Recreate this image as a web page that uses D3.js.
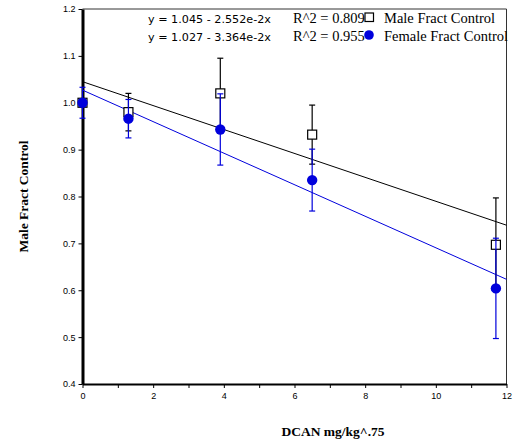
<!DOCTYPE html>
<html>
<head>
<meta charset="utf-8">
<script src="https://cdn.jsdelivr.net/npm/d3@7"></script>
<style>
  html, body { margin: 0; padding: 0; background: #fff; }
  svg { display: block; }
</style>
</head>
<body>
<svg id="chart" width="519" height="444"></svg>
<script>
// DCAN dose groups (mg/kg^.75)
const doses = [0, 1.3, 3.9, 6.5, 11.7];

// Fraction of control, male and female groups, with error half-widths
const maleMean = [1.0, 0.98, 1.02, 0.932, 0.697];
const maleErr = [0, 0.04, 0.075, 0.063, 0.10];
const femaleMean = [1.0, 0.966, 0.943, 0.835, 0.604];
const femaleErr = [0.033, 0.041, 0.076, 0.066, 0.107];

// Linear fits: y = intercept + slope * x
const maleFit = [1.045, -2.552e-2];
const femaleFit = [1.027, -3.364e-2];
const maleR2 = "0.809";
const femaleR2 = "0.955";

// Axis ticks
const yTicks = [0.4, 0.5, 0.6, 0.7, 0.8, 0.9, 1.0, 1.1, 1.2];
const xTicks = [0, 1, 2, 3, 4, 5, 6, 7, 8, 9, 10, 11, 12];

const seriesNames = ["Male Fract Control", "Female Fract Control"];
const xTitle = "DCAN mg/kg^.75";
const yTitle = "Male Fract Control";

const BLUE = "#0000dc";
const svg = d3.select("#chart");

const x = d3.scaleLinear().domain([0, 12]).range([82.5, 506.5]);
const y = d3.scaleLinear().domain([0.4, 1.2]).range([384, 9]);

// plot frame (top and right edges)
svg.append("path")
  .attr("d", `M${x(0)},${y(1.2)}H${x(12)}V${y(0.4)}`)
  .attr("fill", "none").attr("stroke", "#333").attr("stroke-width", 1);

// y axis
const yAxis = svg.append("g")
  .attr("transform", `translate(${x(0)},0)`)
  .call(d3.axisLeft(y).tickValues(yTicks).tickSize(4).tickSizeOuter(0)
    .tickFormat(d3.format(".1f")));
yAxis.select(".domain").attr("stroke", "#000").attr("stroke-width", 3);
yAxis.selectAll(".tick line").attr("stroke", "#000");
yAxis.selectAll(".tick text")
  .attr("x", -7)
  .style("font-family", "'Liberation Sans', Arial, sans-serif")
  .style("font-size", "9px")
  .attr("fill", "#000");

// x axis
const xAxis = svg.append("g")
  .attr("transform", `translate(0,${y(0.4)})`)
  .call(d3.axisBottom(x).tickValues(xTicks).tickSize(4).tickSizeOuter(0)
    .tickFormat(d => d % 2 === 0 ? d : ""));
xAxis.select(".domain").attr("stroke", "#000").attr("stroke-width", 2);
xAxis.selectAll(".tick line").attr("stroke", "#000");
xAxis.selectAll(".tick text")
  .attr("y", 9)
  .style("font-family", "'Liberation Sans', Arial, sans-serif")
  .style("font-size", "9px")
  .attr("fill", "#000");

// axis titles
svg.append("text")
  .attr("x", 333).attr("y", 436)
  .attr("text-anchor", "middle")
  .style("font-family", "'Liberation Serif', 'Times New Roman', serif")
  .style("font-weight", "bold").style("font-size", "13.5px")
  .text(xTitle);
svg.append("text")
  .attr("transform", `translate(28,${(y(0.4) + y(1.2)) / 2}) rotate(-90)`)
  .attr("text-anchor", "middle")
  .style("font-family", "'Liberation Serif', 'Times New Roman', serif")
  .style("font-weight", "bold").style("font-size", "13.5px")
  .text(yTitle);

// fitted lines across the dose range
function fitLine(fit, color) {
  svg.append("line")
    .attr("x1", x(0)).attr("y1", y(fit[0]))
    .attr("x2", x(12)).attr("y2", y(fit[0] + fit[1] * 12))
    .attr("stroke", color).attr("stroke-width", 1);
}
fitLine(maleFit, "#000");
fitLine(femaleFit, BLUE);

// error bars with caps
function errorBars(means, errs, color) {
  const g = svg.append("g").attr("stroke", color).attr("stroke-width", 1.2);
  doses.forEach((d, i) => {
    if (!errs[i]) return;
    const cx = x(d), y0 = y(means[i] - errs[i]), y1 = y(means[i] + errs[i]);
    g.append("line").attr("x1", cx).attr("x2", cx).attr("y1", y0).attr("y2", y1);
    g.append("line").attr("x1", cx - 3).attr("x2", cx + 3).attr("y1", y0).attr("y2", y0);
    g.append("line").attr("x1", cx - 3).attr("x2", cx + 3).attr("y1", y1).attr("y2", y1);
  });
}

// male: open squares
errorBars(maleMean, maleErr, "#000");
svg.append("g").selectAll("rect").data(doses).join("rect")
  .attr("x", d => x(d) - 4.5)
  .attr("y", (d, i) => y(maleMean[i]) - 4.5)
  .attr("width", 9).attr("height", 9)
  .attr("fill", "#fff").attr("stroke", "#000").attr("stroke-width", 1.2);

// female: filled dots
errorBars(femaleMean, femaleErr, BLUE);
svg.append("g").selectAll("circle").data(doses).join("circle")
  .attr("cx", d => x(d))
  .attr("cy", (d, i) => y(femaleMean[i]))
  .attr("r", 5.2)
  .attr("fill", BLUE);

// legend with fit equations
const fmtEq = f => `y = ${f[0].toFixed(3)} - ${(-f[1] * 100).toFixed(3)}e-2x`;
const legendRows = [
  { fit: maleFit, r2: maleR2, name: seriesNames[0], ly: 23 },
  { fit: femaleFit, r2: femaleR2, name: seriesNames[1], ly: 41 }
];
legendRows.forEach((r, i) => {
  svg.append("text").attr("x", 148).attr("y", r.ly)
    .style("font-family", "'DejaVu Sans', Verdana, sans-serif")
    .style("font-size", "11.2px")
    .text(fmtEq(r.fit));
  svg.append("text").attr("x", 293).attr("y", r.ly)
    .style("font-family", "'Liberation Serif', 'Times New Roman', serif")
    .style("font-size", "14.5px")
    .text(`R^2 = ${r.r2}`);
  if (i === 0) {
    svg.append("rect").attr("x", 365).attr("y", r.ly - 10)
      .attr("width", 8.5).attr("height", 8.5)
      .attr("fill", "#fff").attr("stroke", "#000").attr("stroke-width", 1.2);
  } else {
    svg.append("circle").attr("cx", 369).attr("cy", r.ly - 6).attr("r", 4.8)
      .attr("fill", BLUE);
  }
  svg.append("text").attr("x", 384).attr("y", r.ly)
    .style("font-family", "'Liberation Serif', 'Times New Roman', serif")
    .style("font-size", "14.5px")
    .text(r.name);
});
</script>
</body>
</html>
